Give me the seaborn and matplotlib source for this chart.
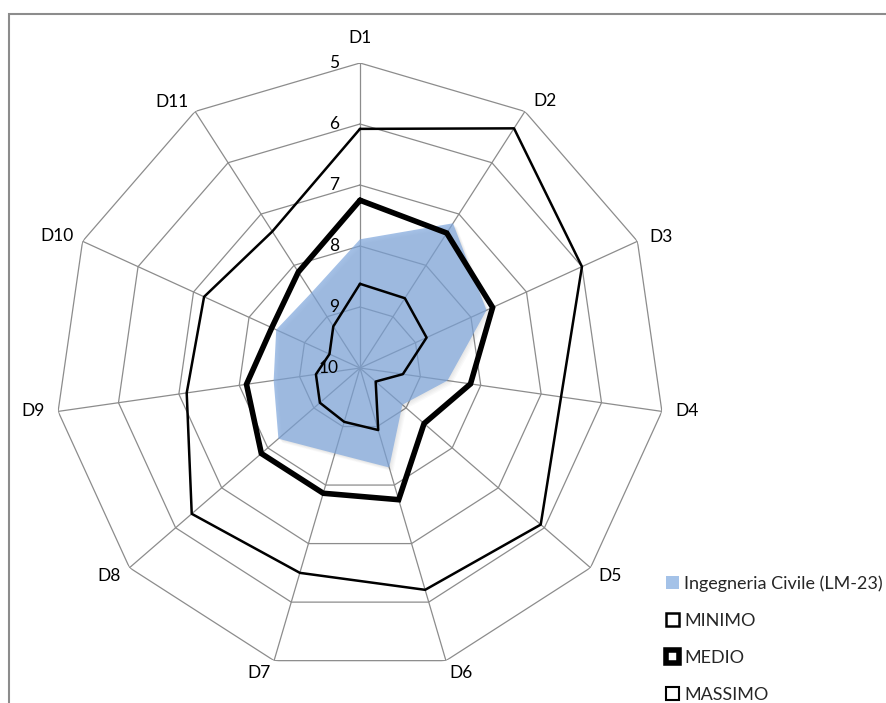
import numpy as np
import matplotlib
matplotlib.use('Agg')
import matplotlib.pyplot as plt
import seaborn as sns
from matplotlib.patches import Patch, Rectangle
from matplotlib.transforms import offset_copy


CATEGORIES = ['D1', 'D2', 'D3', 'D4', 'D5', 'D6', 'D7', 'D8', 'D9', 'D10', 'D11']
RING_VALUES = [5, 6, 7, 8, 9, 10]

civile = [7.89, 7.18, 7.72, 8.55, 9.08, 8.30, 8.54, 8.23, 8.57, 8.49, 8.53]
minimo = [6.08, 5.33, 6.00, 6.67, 6.08, 6.21, 6.50, 6.35, 7.13, 7.19, 7.34]
medio = [7.25, 7.37, 7.61, 8.17, 8.61, 7.75, 7.86, 7.86, 8.12, 8.41, 8.13]
massimo = [8.62, 8.64, 8.80, 9.29, 9.66, 8.94, 9.08, 9.13, 9.27, 9.45, 9.19]

GRID = '#8c8c8c'
FILL = '#7ea6dc'

# where Excel puts each category label relative to the outer vertex (pixels, y down)
LABEL_OFFSETS = [(0, -25), (20, -10), (24, -4), (25, 0), (20, 8), (15, 12.5),
                 (-15, 12.5), (-20, 8), (-25, 0), (-26, -5), (-23, -9)]


def closed(values):
    return np.append(values, values[0])


def make_chart():
    sns.set_theme(style='white')
    plt.rcParams['font.family'] = ['Lato', 'DejaVu Sans']

    fig = plt.figure(figsize=(8.86, 7.03), dpi=100)
    ax = fig.add_axes([55 / 886, 30 / 703, 610 / 886, 610 / 703], projection='polar')
    ax.set_theta_zero_location('N')
    ax.set_theta_direction(-1)
    ax.set_ylim(10, 5)
    ax.patch.set_alpha(0)
    ax.spines['polar'].set_visible(False)

    n = len(CATEGORIES)
    theta = np.arange(n) * 2 * np.pi / n
    theta_c = closed(theta)

    # spokes from the theta grid, rings drawn as polygons
    ax.set_xticks(theta)
    ax.set_xticklabels([])
    ax.set_yticks([])
    ax.xaxis.grid(True, color=GRID, linewidth=0.9)
    ax.yaxis.grid(False)
    ax.set_axisbelow(True)
    for v in RING_VALUES[:-1]:
        ax.plot(theta_c, [v] * (n + 1), color=GRID, linewidth=0.9, zorder=1)

    # soft shadow under the filled series
    for k in range(1, 5):
        shadow = offset_copy(ax.transData, fig=fig, x=k, y=-k, units='dots')
        ax.fill(theta_c, closed(civile), color='black', alpha=0.025,
                linewidth=0, transform=shadow, zorder=1.5)
    ax.fill(theta_c, closed(civile), color=FILL, alpha=0.7, linewidth=0, zorder=2)

    ax.plot(theta_c, closed(massimo), color='black', linewidth=1.8, zorder=3)
    ax.plot(theta_c, closed(medio), color='black', linewidth=4.0, zorder=3,
            solid_joinstyle='miter')
    ax.plot(theta_c, closed(minimo), color='black', linewidth=1.8, zorder=3)
    ax.set_ylim(10, 5)

    for t, name, (dx, dy) in zip(theta, CATEGORIES, LABEL_OFFSETS):
        ax.annotate(name, xy=(t, 5), xytext=(dx, -dy), textcoords='offset pixels',
                    ha='center', va='center', fontsize=12.5, color='black',
                    annotation_clip=False)
    for v in RING_VALUES:
        ax.annotate(str(v), xy=(0, v), xytext=(-21, 0), textcoords='offset pixels',
                    ha='right', va='center', fontsize=12.5, color='black')

    fig.add_artist(Rectangle((9 / 886, -0.1), 1.2, 0.1 + 1 - 13.5 / 703,
                             transform=fig.transFigure, fill=False,
                             edgecolor=GRID, linewidth=1.5))

    handles = [
        Patch(facecolor='#a4c2e8', edgecolor='none'),
        Patch(facecolor='white', edgecolor='black', linewidth=1.8),
        Patch(facecolor='white', edgecolor='black', linewidth=4.0),
        Patch(facecolor='white', edgecolor='black', linewidth=1.5),
    ]
    labels = ['Ingegneria Civile (LM-23)', 'MINIMO', 'MEDIO', 'MASSIMO']
    fig.legend(handles, labels, loc='upper left',
               bbox_to_anchor=(666 / 886, 1 - 575 / 703), frameon=False,
               fontsize=13, handlelength=0.7, handleheight=0.7,
               handletextpad=0.3, labelspacing=1.17, borderpad=0,
               borderaxespad=0)

    fig.savefig('out.png', dpi=100)


if __name__ == '__main__':
    make_chart()
